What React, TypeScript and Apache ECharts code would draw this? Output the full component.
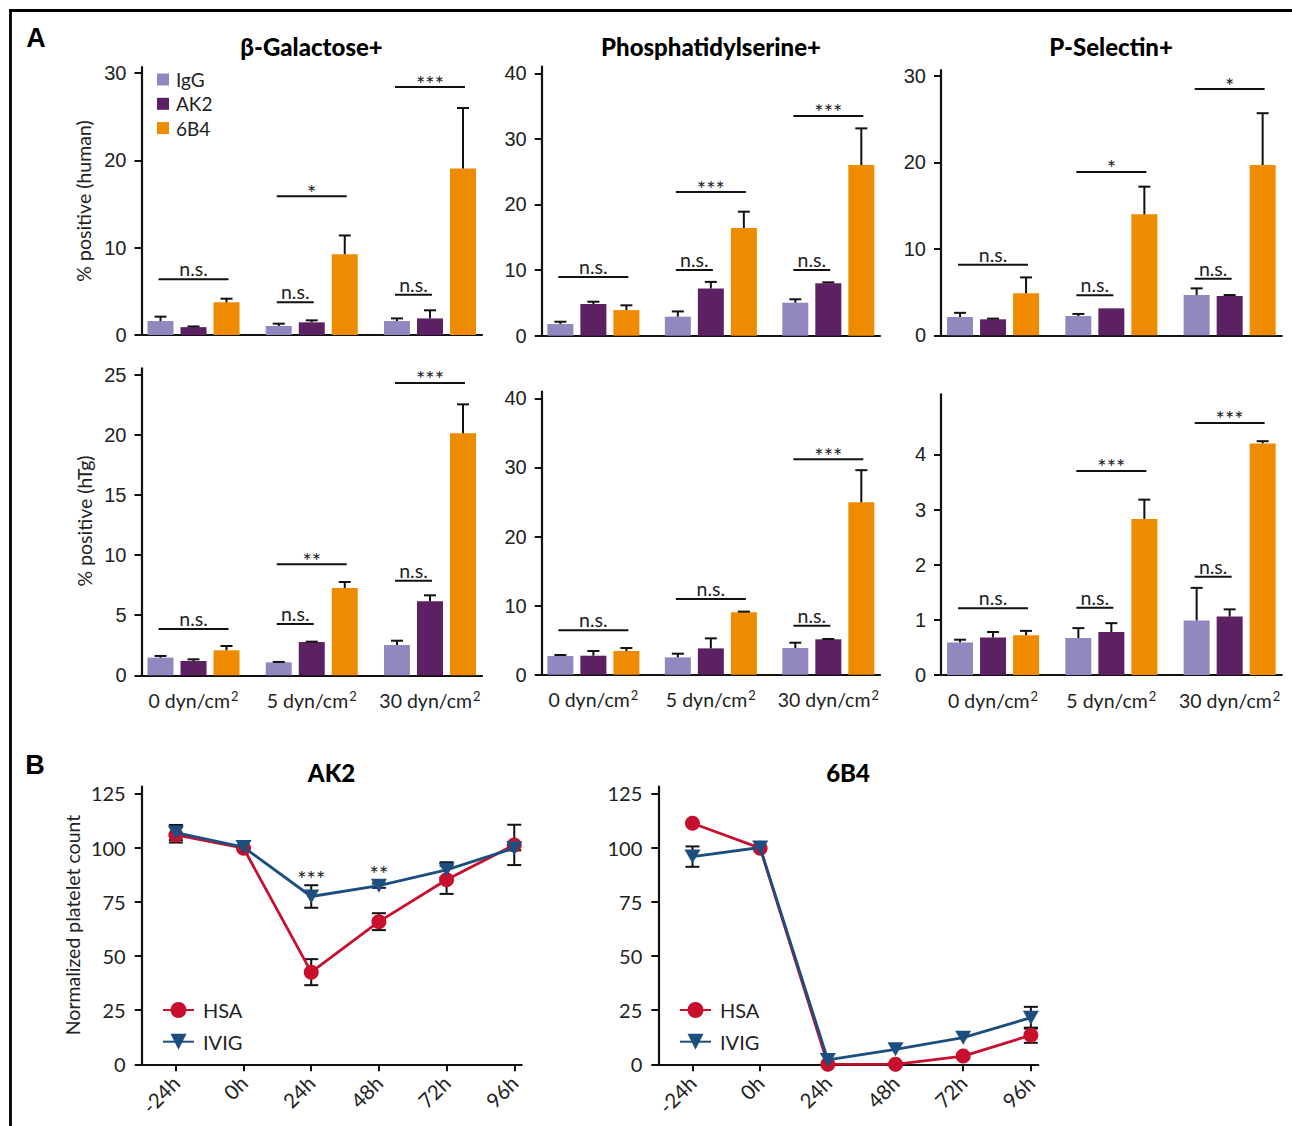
import React, { useEffect, useRef } from 'react';
import * as echarts from 'echarts';

// ---------- Panel A data ----------
const shearLabels = ['0 dyn/cm', '5 dyn/cm', '30 dyn/cm'];
const treatments = ['IgG', 'AK2', '6B4'];
const treatmentColors = ['#9387c0', '#5c2162', '#ee8b00'];

// β-Galactose+ (human)
const galHumanIgG = [1.6, 1.03, 1.6];
const galHumanAK2 = [0.9, 1.45, 1.9];
const galHuman6B4 = [3.75, 9.25, 19.07];
const galHumanIgGErr = [0.5, 0.27, 0.3];
const galHumanAK2Err = [0.08, 0.23, 0.93];
const galHuman6B4Err = [0.41, 2.15, 6.93];
const galHumanSig = [[0, 0, 2, 6.38], [1, 0, 1, 3.75], [1, 0, 2, 15.9], [2, 0, 1, 4.6], [2, 0, 2, 28.4]];
const galHumanSigLabels = ['n.s.', 'n.s.', '*', 'n.s.', '***'];

// Phosphatidylserine+ (human)
const psHumanIgG = [1.78, 2.9, 5.03];
const psHumanAK2 = [4.83, 7.2, 8.0];
const psHuman6B4 = [3.9, 16.4, 26.0];
const psHumanIgGErr = [0.35, 0.8, 0.52];
const psHumanAK2Err = [0.35, 1.0, 0.13];
const psHuman6B4Err = [0.73, 2.5, 5.6];
const psHumanSig = [[0, 0, 2, 8.95], [1, 0, 1, 10.0], [1, 0, 2, 21.9], [2, 0, 1, 10.0], [2, 0, 2, 33.5]];
const psHumanSigLabels = ['n.s.', 'n.s.', '***', 'n.s.', '***'];

// P-Selectin+ (human)
const pselHumanIgG = [2.12, 2.23, 4.66];
const pselHumanAK2 = [1.85, 3.12, 4.55];
const pselHuman6B4 = [4.86, 14.0, 19.7];
const pselHumanIgGErr = [0.48, 0.24, 0.77];
const pselHumanAK2Err = [0.08, 0, 0.11];
const pselHuman6B4Err = [1.84, 3.2, 6.0];
const pselHumanSig = [[0, 0, 2, 8.17], [1, 0, 1, 4.63], [1, 0, 2, 18.9], [2, 0, 1, 6.55], [2, 0, 2, 28.5]];
const pselHumanSigLabels = ['n.s.', 'n.s.', '*', 'n.s.', '*'];

// β-Galactose+ (hTg)
const galTgIgG = [1.47, 1.08, 2.52];
const galTgAK2 = [1.19, 2.77, 6.16];
const galTg6B4 = [2.08, 7.27, 20.15];
const galTgIgGErr = [0.14, 0.03, 0.36];
const galTgAK2Err = [0.14, 0.03, 0.5];
const galTg6B4Err = [0.36, 0.5, 2.41];
const galTgSig = [[0, 0, 2, 3.85], [1, 0, 1, 4.27], [1, 0, 2, 9.24], [2, 0, 1, 7.88], [2, 0, 2, 24.34]];
const galTgSigLabels = ['n.s.', 'n.s.', '**', 'n.s.', '***'];

// Phosphatidylserine+ (hTg)
const psTgIgG = [2.7, 2.51, 3.86];
const psTgAK2 = [2.75, 3.81, 5.12];
const psTg6B4 = [3.43, 9.03, 24.95];
const psTgIgGErr = [0.15, 0.53, 0.77];
const psTgAK2Err = [0.68, 1.45, 0.05];
const psTg6B4Err = [0.43, 0.1, 4.65];
const psTgSig = [[0, 0, 2, 6.42], [1, 0, 2, 10.96], [2, 0, 1, 7.1], [2, 0, 2, 31.2]];
const psTgSigLabels = ['n.s.', 'n.s.', 'n.s.', '***'];

// P-Selectin+ (hTg)
const pselTgIgG = [0.59, 0.67, 0.99];
const pselTgAK2 = [0.68, 0.78, 1.06];
const pselTg6B4 = [0.72, 2.83, 4.2];
const pselTgIgGErr = [0.05, 0.18, 0.59];
const pselTgAK2Err = [0.1, 0.16, 0.13];
const pselTg6B4Err = [0.08, 0.35, 0.04];
const pselTgSig = [[0, 0, 2, 1.21], [1, 0, 1, 1.22], [1, 0, 2, 3.7], [2, 0, 1, 1.78], [2, 0, 2, 4.57]];
const pselTgSigLabels = ['n.s.', 'n.s.', '***', 'n.s.', '***'];

// tick values
const ticks30 = [0, 10, 20, 30];
const ticks40 = [0, 10, 20, 30, 40];
const ticks25 = [0, 5, 10, 15, 20, 25];
const ticks4 = [0, 1, 2, 3, 4];

// ---------- Panel B data ----------
const timeLabels = ['-24h', '0h', '24h', '48h', '72h', '96h'];
const ticksB = [0, 25, 50, 75, 100, 125];
const ak2HSA = [105.8, 99.7, 42.5, 65.8, 85.1, 101.2];
const ak2HSAErr = [3.5, 0, 6, 3.9, 6.5, 9.3];
const ak2IVIG = [106.9, 100.2, 77.4, 82.4, 89.7, 99.7];
const ak2IVIGErr = [3.5, 0, 5.2, 1, 3.5, 1];
const ak2Sig = [[2, 86.5], [3, 88.8]];
const ak2SigLabels = ['***', '**'];
const b4HSA = [111.2, 99.7, 0, 0, 3.8, 13.4];
const b4HSAErr = [0, 0, 0, 0, 1, 3.5];
const b4IVIG = [95.8, 100, 2.0, 6.9, 12.3, 21.5];
const b4IVIGErr = [4.7, 0, 0, 0, 0, 5];

const HSA_COLOR = '#c8102e';
const IVIG_COLOR = '#1c4f80';
const INK = '#111';
const TEXT = '#222';
const BAR_STEP = 33;

const panelsA = [
  { means: [galHumanIgG, galHumanAK2, galHuman6B4], errs: [galHumanIgGErr, galHumanAK2Err, galHuman6B4Err], sig: galHumanSig, sigLabels: galHumanSigLabels, ticks: ticks30, max: 30.7, layout: { left: 141.5, top: 67, width: 340.5, height: 268 }, bottom: false },
  { means: [psHumanIgG, psHumanAK2, psHuman6B4], errs: [psHumanIgGErr, psHumanAK2Err, psHuman6B4Err], sig: psHumanSig, sigLabels: psHumanSigLabels, ticks: ticks40, max: 41, layout: { left: 541.7, top: 66.7, width: 338.3, height: 269 }, bottom: false },
  { means: [pselHumanIgG, pselHumanAK2, pselHuman6B4], errs: [pselHumanIgGErr, pselHumanAK2Err, pselHuman6B4Err], sig: pselHumanSig, sigLabels: pselHumanSigLabels, ticks: ticks30, max: 30.7, layout: { left: 941, top: 70, width: 340.7, height: 265.3 }, bottom: false },
  { means: [galTgIgG, galTgAK2, galTg6B4], errs: [galTgIgGErr, galTgAK2Err, galTg6B4Err], sig: galTgSig, sigLabels: galTgSigLabels, ticks: ticks25, max: 25.56, layout: { left: 141.5, top: 368.3, width: 340.5, height: 307 }, bottom: true },
  { means: [psTgIgG, psTgAK2, psTg6B4], errs: [psTgIgGErr, psTgAK2Err, psTg6B4Err], sig: psTgSig, sigLabels: psTgSigLabels, ticks: ticks40, max: 40.96, layout: { left: 541.7, top: 391.7, width: 338.3, height: 283 }, bottom: true },
  { means: [pselTgIgG, pselTgAK2, pselTg6B4], errs: [pselTgIgGErr, pselTgAK2Err, pselTg6B4Err], sig: pselTgSig, sigLabels: pselTgSigLabels, ticks: ticks4, max: 5.09, layout: { left: 941, top: 394.3, width: 340.7, height: 280.7 }, bottom: true },
];

const panelsB = [
  { hsa: ak2HSA, hsaErr: ak2HSAErr, ivig: ak2IVIG, ivigErr: ak2IVIGErr, sig: ak2Sig, sigLabels: ak2SigLabels, layout: { left: 141.7, top: 786.7, width: 380, height: 277.6 } },
  { hsa: b4HSA, hsaErr: b4HSAErr, ivig: b4IVIG, ivigErr: b4IVIGErr, sig: [] as number[][], sigLabels: [] as string[], layout: { left: 658.3, top: 786.7, width: 380, height: 277.6 } },
];

const lineStyleAxis = { color: INK, width: 2.2 };

function renderBarErr(params: any, api: any) {
  const x = api.value(0), v = api.value(1), e = api.value(2), g = api.value(3);
  if (!(e > 0)) return null;
  const base = api.coord([x, v]);
  const top = api.coord([x, v + e]);
  const cx = base[0] + (g - 1) * BAR_STEP;
  const st = { stroke: INK, lineWidth: 2 };
  return {
    type: 'group',
    children: [
      { type: 'line', shape: { x1: cx, y1: base[1], x2: cx, y2: top[1] }, style: st },
      { type: 'line', shape: { x1: cx - 6, y1: top[1], x2: cx + 6, y2: top[1] }, style: st },
    ],
  };
}

function makeSigRender(labels: string[]) {
  return (params: any, api: any) => {
    const x = api.value(0), f = api.value(1), t = api.value(2), y = api.value(3);
    const c = api.coord([x, y]);
    const x1 = c[0] + (f - 1) * BAR_STEP - 2;
    const x2 = c[0] + (t - 1) * BAR_STEP + 2;
    const label = labels[params.dataIndex];
    const star = label.indexOf('*') >= 0;
    return {
      type: 'group',
      children: [
        { type: 'line', shape: { x1, y1: c[1], x2, y2: c[1] }, style: { stroke: INK, lineWidth: 2 } },
        {
          type: 'text',
          x: (x1 + x2) / 2,
          y: c[1] - (star ? 4 : 10.5),
          style: { text: label, fontSize: star ? 22 : 19.5, fontFamily: 'Lato', fill: TEXT, textAlign: 'center', textVerticalAlign: 'middle' },
        },
      ],
    };
  };
}

function renderLineErr(params: any, api: any) {
  const x = api.value(0), v = api.value(1), e = api.value(2);
  if (!(e > 0)) return null;
  const hi = api.coord([x, v + e]);
  const lo = api.coord([x, v - e]);
  const cx = hi[0];
  const st = { stroke: INK, lineWidth: 2 };
  return {
    type: 'group',
    children: [
      { type: 'line', shape: { x1: cx, y1: hi[1], x2: cx, y2: lo[1] }, style: st },
      { type: 'line', shape: { x1: cx - 7, y1: hi[1], x2: cx + 7, y2: hi[1] }, style: st },
      { type: 'line', shape: { x1: cx - 7, y1: lo[1], x2: cx + 7, y2: lo[1] }, style: st },
    ],
  };
}

function makeTextRender(labels: string[]) {
  return (params: any, api: any) => {
    const c = api.coord([api.value(0), api.value(1)]);
    return {
      type: 'text',
      x: c[0],
      y: c[1] + 2,
      style: { text: labels[params.dataIndex], fontSize: 22, fontFamily: 'Lato', fill: TEXT, textAlign: 'center', textVerticalAlign: 'middle' },
    };
  };
}

function buildOption() {
  const grid: any[] = [];
  const xAxis: any[] = [];
  const yAxis: any[] = [];
  const series: any[] = [];

  panelsA.forEach((p, i) => {
    grid.push({ ...p.layout });
    xAxis.push({
      type: 'value', gridIndex: i, min: -0.44, max: 2.44,
      axisLine: { onZero: false, lineStyle: lineStyleAxis },
      axisTick: { show: false },
      splitLine: { show: false },
      axisLabel: p.bottom
        ? {
            show: true, customValues: [0, 1, 2], margin: 14,
            formatter: (v: number) => `{a|${shearLabels[Math.round(v)]}}{s|2}`,
            rich: {
              a: { fontSize: 19.5, fontFamily: 'Lato', color: TEXT, lineHeight: 22 },
              s: { fontSize: 13, fontFamily: 'Lato', color: TEXT, verticalAlign: 'top', lineHeight: 12, padding: [0, 0, 0, 1] },
            },
          }
        : { show: false },
    });
    yAxis.push({
      type: 'value', gridIndex: i, min: 0, max: p.max,
      axisLine: { show: true, onZero: false, lineStyle: lineStyleAxis },
      axisTick: { show: true, customValues: p.ticks, length: 7, lineStyle: { color: INK, width: 2 } },
      axisLabel: { customValues: p.ticks, fontSize: 20, fontFamily: 'Liberation Sans', color: TEXT, margin: 15 },
      splitLine: { show: false },
    });
    treatments.forEach((t, g) => {
      series.push({
        type: 'bar', name: t, xAxisIndex: i, yAxisIndex: i,
        data: p.means[g].map((v, k) => [k, v]),
        barWidth: 26, barGap: '27%',
        itemStyle: { color: treatmentColors[g] },
        z: 2,
      });
    });
    const errData: number[][] = [];
    treatments.forEach((t, g) => {
      p.means[g].forEach((v, k) => errData.push([k, v, p.errs[g][k], g]));
    });
    series.push({
      type: 'custom', name: `err-a${i}`, xAxisIndex: i, yAxisIndex: i,
      data: errData, encode: { x: 0, y: 1 }, renderItem: renderBarErr, z: 3, silent: true,
    });
    series.push({
      type: 'custom', name: `sig-a${i}`, xAxisIndex: i, yAxisIndex: i,
      data: p.sig, encode: { x: 0, y: 3 }, renderItem: makeSigRender(p.sigLabels), z: 3, silent: true,
    });
  });

  panelsB.forEach((p, j) => {
    const i = panelsA.length + j;
    grid.push({ ...p.layout });
    xAxis.push({
      type: 'value', gridIndex: i, min: -0.505, max: 5.11,
      axisLine: { onZero: false, lineStyle: lineStyleAxis },
      axisTick: { show: true, customValues: [0, 1, 2, 3, 4, 5], length: 7, lineStyle: { color: INK, width: 2 } },
      axisLabel: {
        customValues: [0, 1, 2, 3, 4, 5], rotate: 45, margin: 15,
        formatter: (v: number) => timeLabels[Math.round(v)],
        fontSize: 20.5, fontFamily: 'Lato', color: TEXT,
      },
      splitLine: { show: false },
    });
    yAxis.push({
      type: 'value', gridIndex: i, min: 0, max: 128.05,
      axisLine: { show: true, onZero: false, lineStyle: lineStyleAxis },
      axisTick: { show: true, customValues: ticksB, length: 7, lineStyle: { color: INK, width: 2 } },
      axisLabel: { customValues: ticksB, fontSize: 20, fontFamily: 'Lato', color: TEXT, margin: 16 },
      splitLine: { show: false },
    });
    const errData: number[][] = [];
    p.hsa.forEach((v, k) => errData.push([k, v, p.hsaErr[k]]));
    p.ivig.forEach((v, k) => errData.push([k, v, p.ivigErr[k]]));
    series.push({
      type: 'custom', name: `err-b${j}`, xAxisIndex: i, yAxisIndex: i,
      data: errData, encode: { x: 0, y: 1 }, renderItem: renderLineErr, z: 1, silent: true,
    });
    series.push({
      type: 'line', name: 'HSA', xAxisIndex: i, yAxisIndex: i,
      data: p.hsa.map((v, k) => [k, v]),
      symbol: 'circle', symbolSize: 15,
      lineStyle: { color: HSA_COLOR, width: 2.8 },
      itemStyle: { color: HSA_COLOR },
      z: 3,
    });
    series.push({
      type: 'line', name: 'IVIG', xAxisIndex: i, yAxisIndex: i,
      data: p.ivig.map((v, k) => [k, v]),
      symbol: 'path://M0,0L16,0L8,14Z', symbolSize: [16, 14],
      lineStyle: { color: IVIG_COLOR, width: 2.8 },
      itemStyle: { color: IVIG_COLOR },
      z: 4,
    });
    if (p.sig.length) {
      series.push({
        type: 'custom', name: `sig-b${j}`, xAxisIndex: i, yAxisIndex: i,
        data: p.sig, encode: { x: 0, y: 1 }, renderItem: makeTextRender(p.sigLabels), z: 5, silent: true,
      });
    }
  });

  const legendText = { fontSize: 19, fontFamily: 'Lato', color: TEXT, lineHeight: 18 };
  const legend = [
    {
      data: treatments, orient: 'vertical', left: 152, top: 65, itemWidth: 12, itemHeight: 12, itemGap: 5.3,
      icon: 'rect', textStyle: { ...legendText, padding: [0, 0, 0, 2] }, selectedMode: false,
    },
    {
      data: ['HSA', 'IVIG'], orient: 'vertical', left: 157, top: 995, itemWidth: 31, itemHeight: 20, itemGap: 11.7,
      textStyle: { ...legendText, fontSize: 20, padding: [0, 0, 0, 4] }, selectedMode: false,
    },
    {
      data: ['HSA', 'IVIG'], orient: 'vertical', left: 674, top: 995, itemWidth: 31, itemHeight: 20, itemGap: 11.7,
      textStyle: { ...legendText, fontSize: 20, padding: [0, 0, 0, 4] }, selectedMode: false,
    },
  ];

  const titleStyle = { fontSize: 24, fontWeight: 900, fontFamily: 'Lato', fill: '#000', textAlign: 'center', textVerticalAlign: 'middle' };
  const nameStyle = { fontSize: 19.5, fontFamily: 'Lato', fill: TEXT, textAlign: 'center', textVerticalAlign: 'middle' };
  const graphic = [
    { type: 'rect', shape: { x: 10.5, y: 10.5, width: 1400, height: 1200 }, style: { fill: 'none', stroke: '#000', lineWidth: 2.8 }, silent: true },
    { type: 'text', x: 36, y: 38, style: { text: 'A', fontSize: 27, fontWeight: 'bold', fontFamily: 'Liberation Sans', fill: '#000', textAlign: 'center', textVerticalAlign: 'middle' } },
    { type: 'text', x: 35, y: 765, style: { text: 'B', fontSize: 27, fontWeight: 'bold', fontFamily: 'Liberation Sans', fill: '#000', textAlign: 'center', textVerticalAlign: 'middle' } },
    { type: 'text', x: 311.5, y: 46, style: { ...titleStyle, text: 'β-Galactose+' } },
    { type: 'text', x: 711, y: 46, style: { ...titleStyle, text: 'Phosphatidylserine+' } },
    { type: 'text', x: 1111, y: 46, style: { ...titleStyle, text: 'P-Selectin+' } },
    { type: 'text', x: 331.5, y: 772, style: { ...titleStyle, text: 'AK2' } },
    { type: 'text', x: 848, y: 772, style: { ...titleStyle, text: '6B4' } },
    { type: 'text', x: 83, y: 201, rotation: Math.PI / 2, style: { ...nameStyle, text: '% positive (human)' } },
    { type: 'text', x: 84, y: 521, rotation: Math.PI / 2, style: { ...nameStyle, text: '% positive (hTg)' } },
    { type: 'text', x: 72, y: 925, rotation: Math.PI / 2, style: { ...nameStyle, text: 'Normalized platelet count' } },
  ];

  return { animation: false, grid, xAxis, yAxis, series, legend, graphic };
}

export default function App() {
  const ref = useRef<HTMLDivElement>(null);
  useEffect(() => {
    if (!ref.current) return;
    const chart = echarts.init(ref.current, undefined, { renderer: 'svg' });
    chart.setOption(buildOption() as any);
    return () => chart.dispose();
  }, []);
  return (
    <div
      ref={ref}
      style={{ position: 'absolute', left: 0, top: 0, width: 1292, height: 1126, background: '#fff' }}
    />
  );
}
